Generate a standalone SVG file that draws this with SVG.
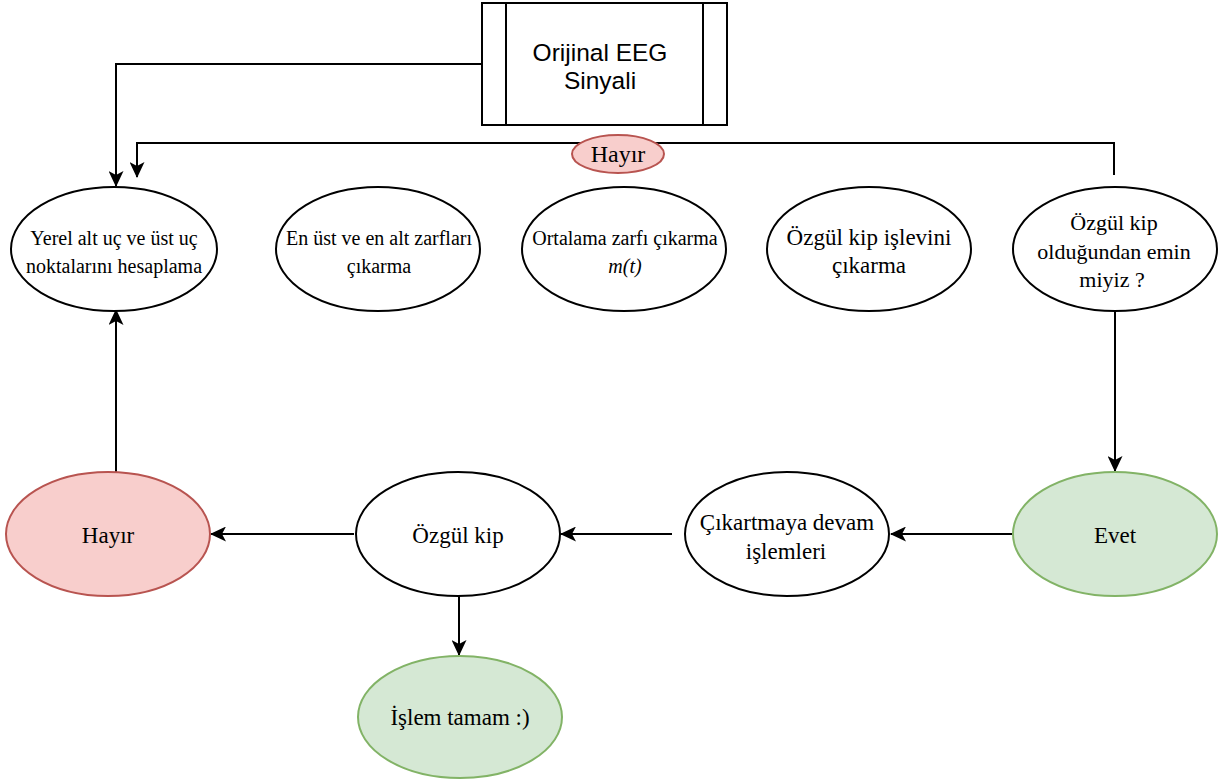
<svg xmlns="http://www.w3.org/2000/svg" width="1230" height="783" viewBox="0 0 1230 783">
<defs>
<marker id="arr" viewBox="0 0 16 15" refX="15" refY="7.5" markerWidth="16" markerHeight="15" markerUnits="userSpaceOnUse" orient="auto">
<path d="M0,0 L16,7.5 L0,15 L4,7.5 Z" fill="#000"/>
</marker>
<style>
.n{fill:#fff;stroke:#000;stroke-width:2}
.r{fill:#f8cecc;stroke:#b85450;stroke-width:2}
.g{fill:#d5e8d4;stroke:#82b366;stroke-width:2}
.c{fill:none;stroke:#000;stroke-width:2;marker-end:url(#arr)}
.p{fill:none;stroke:#000;stroke-width:2}
.t{font-family:"Liberation Serif","Times New Roman",serif;font-size:20px;fill:#000;text-anchor:middle}
.b{font-size:23px}
.m{font-size:22px}
.l{font-size:24px}
.i{font-style:italic}
.s{font-family:"Liberation Sans",Arial,sans-serif;font-size:24.5px;fill:#000;text-anchor:middle}
</style>
</defs>
<rect width="1230" height="783" fill="#fff"/>
<g id="connectors">
<path class="c" d="M482,64 L116,64 L116,186"/>
<path class="c" d="M1114,175 L1114,143 L137,143 L137,177"/>
<path class="c" d="M1115,311 L1115,471"/>
<path class="c" d="M1012,534 L891,534"/>
<path class="c" d="M672,534 L561,534"/>
<path class="c" d="M354,534 L211,534"/>
<path class="c" d="M459,596 L459,655"/>
<path class="c" d="M116,472 L116,310"/>
</g>
<g id="hayir-label">
<ellipse class="r" cx="618" cy="154" rx="46" ry="19"/>
<text class="t l" x="618" y="162">Hayır</text>
</g>
<g id="orijinal">
<rect class="n" x="482" y="3" width="245" height="122"/>
<line class="p" x1="506" y1="3" x2="506" y2="125"/>
<line class="p" x1="703" y1="3" x2="703" y2="125"/>
<text class="s" x="600" y="61">Orijinal EEG</text>
<text class="s" x="600" y="89">Sinyali</text>
</g>
<g id="yerel">
<ellipse class="n" cx="114" cy="249" rx="103" ry="62"/>
<text class="t" x="114" y="245">Yerel alt uç ve üst uç</text>
<text class="t" x="114" y="273">noktalarını hesaplama</text>
</g>
<g id="zarflar">
<ellipse class="n" cx="378" cy="249" rx="102" ry="62"/>
<text class="t" x="379" y="245">En üst ve en alt zarfları</text>
<text class="t" x="379" y="273">çıkarma</text>
</g>
<g id="ortalama">
<ellipse class="n" cx="624" cy="249" rx="102" ry="62"/>
<text class="t" x="625" y="245">Ortalama zarfı çıkarma</text>
<text class="t i" x="625" y="273">m(t)</text>
</g>
<g id="islev">
<ellipse class="n" cx="869" cy="249" rx="102" ry="62"/>
<text class="t b" x="869" y="245">Özgül kip işlevini</text>
<text class="t b" x="869" y="273">çıkarma</text>
</g>
<g id="emin">
<ellipse class="n" cx="1115" cy="249" rx="102" ry="62"/>
<text class="t m" x="1114" y="230">Özgül kip</text>
<text class="t m" x="1114" y="259">olduğundan emin</text>
<text class="t m" x="1112" y="287">miyiz ?</text>
</g>
<g id="evet">
<ellipse class="g" cx="1115" cy="534" rx="102" ry="62"/>
<text class="t b" x="1115" y="543">Evet</text>
</g>
<g id="devam">
<ellipse class="n" cx="787" cy="534" rx="102" ry="62"/>
<text class="t b" x="787" y="530">Çıkartmaya devam</text>
<text class="t b" x="786" y="559">işlemleri</text>
</g>
<g id="ozgul">
<ellipse class="n" cx="458" cy="534" rx="102" ry="62"/>
<text class="t b" x="458" y="543">Özgül kip</text>
</g>
<g id="hayir">
<ellipse class="r" cx="108" cy="534" rx="102" ry="62"/>
<text class="t b" x="108" y="543">Hayır</text>
</g>
<g id="tamam">
<ellipse class="g" cx="460" cy="717" rx="102" ry="61"/>
<text class="t b" x="460" y="725">İşlem tamam :)</text>
</g>
</svg>
